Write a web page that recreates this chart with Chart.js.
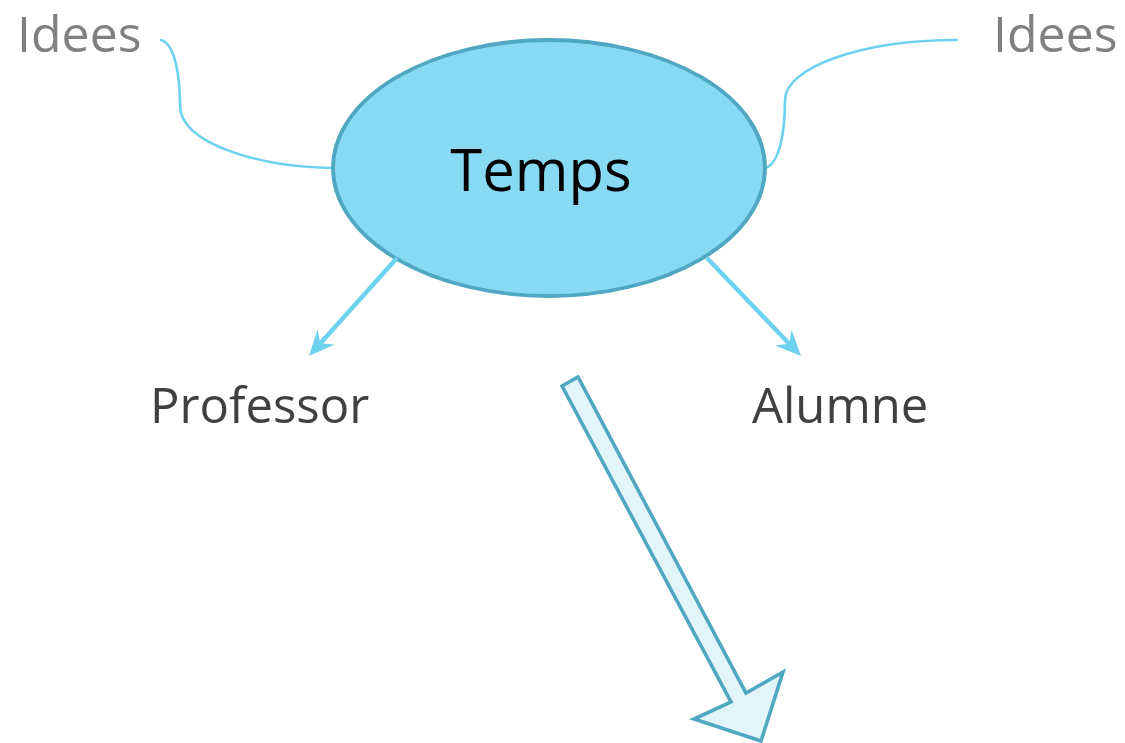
<!DOCTYPE html>
<html>
<head>
<meta charset="utf-8">
<script src="https://cdn.jsdelivr.net/npm/chart.js@4"></script>
<style>
  body { margin: 0; background: #fff; }
  #wrap { width: 1125px; height: 743px; }
</style>
</head>
<body>
<div id="wrap"><canvas id="diagram"></canvas></div>
<script>
// diagram units = reference pixels (x to the right, y downwards)
const centerNode = { label: 'Temps', x: 549, y: 168, rx: 216, ry: 128 };

const ideaLabels = ['Idees', 'Idees'];
const ideaPos = [{ x: 17, y: 52 }, { x: 993, y: 52 }];

const childLabels = ['Professor', 'Alumne'];
const childPos = [{ x: 150, y: 423 }, { x: 752, y: 423 }];

// curved connectors: start, ctrl1, ctrl2, mid, ctrl3, ctrl4, end
const curveLeft = [[161, 40], [176, 44], [180, 80], [180, 105], [180, 145], [262, 167], [333, 168]];
const curveRight = [[957, 40], [860, 40], [785, 68], [785, 100], [785, 130], [780, 164], [765, 168]];

// thin arrows: from, to
const arrowFrom = [[397, 258], [707, 258]];
const arrowTo = [[309, 356], [801, 356]];

// block arrow outline
const blockArrow = [[562, 386], [578, 377], [746, 693], [783, 672], [761, 741], [694, 719], [731, 702]];

const lineBlue = '#6dd2ef';

function createDiagramPlugin() {
    return {
        id: 'diagram',
        afterDatasetsDraw(chart) {
            const ctx = chart.ctx;
            const xs = chart.scales.x, ys = chart.scales.y;
            const px = v => xs.getPixelForValue(v);
            const py = v => ys.getPixelForValue(v);
            ctx.save();

            // connectors
            ctx.strokeStyle = lineBlue;
            ctx.lineWidth = 2.6;
            ctx.lineCap = 'round';
            [curveLeft, curveRight].forEach(c => {
                ctx.beginPath();
                ctx.moveTo(px(c[0][0]), py(c[0][1]));
                ctx.bezierCurveTo(px(c[1][0]), py(c[1][1]), px(c[2][0]), py(c[2][1]), px(c[3][0]), py(c[3][1]));
                ctx.bezierCurveTo(px(c[4][0]), py(c[4][1]), px(c[5][0]), py(c[5][1]), px(c[6][0]), py(c[6][1]));
                ctx.stroke();
            });

            // ellipse
            ctx.beginPath();
            ctx.ellipse(px(centerNode.x), py(centerNode.y),
                px(centerNode.x + centerNode.rx) - px(centerNode.x),
                Math.abs(py(centerNode.y + centerNode.ry) - py(centerNode.y)), 0, 0, Math.PI * 2);
            ctx.fillStyle = '#88daf4';
            ctx.fill();
            ctx.lineWidth = 3.8;
            ctx.strokeStyle = '#4fa7c1';
            ctx.stroke();

            // thin arrows
            ctx.strokeStyle = lineBlue;
            ctx.fillStyle = lineBlue;
            ctx.lineWidth = 4.5;
            ctx.lineCap = 'butt';
            arrowFrom.forEach((f, i) => {
                const x1 = px(f[0]), y1 = py(f[1]);
                const x2 = px(arrowTo[i][0]), y2 = py(arrowTo[i][1]);
                const ang = Math.atan2(y2 - y1, x2 - x1);
                ctx.beginPath();
                ctx.moveTo(x1, y1);
                ctx.lineTo(x2 - 8 * Math.cos(ang), y2 - 8 * Math.sin(ang));
                ctx.stroke();
                const L = 28, W = 0.42, back = 17;
                ctx.beginPath();
                ctx.moveTo(x2, y2);
                ctx.lineTo(x2 - L * Math.cos(ang - W), y2 - L * Math.sin(ang - W));
                ctx.lineTo(x2 - back * Math.cos(ang), y2 - back * Math.sin(ang));
                ctx.lineTo(x2 - L * Math.cos(ang + W), y2 - L * Math.sin(ang + W));
                ctx.closePath();
                ctx.fill();
            });

            // block arrow
            ctx.beginPath();
            blockArrow.forEach((p, i) => {
                if (i === 0) ctx.moveTo(px(p[0]), py(p[1]));
                else ctx.lineTo(px(p[0]), py(p[1]));
            });
            ctx.closePath();
            ctx.fillStyle = '#e2f5fb';
            ctx.fill();
            ctx.lineWidth = 3.6;
            ctx.lineJoin = 'miter';
            ctx.strokeStyle = '#4fa7c1';
            ctx.stroke();

            // texts
            ctx.textBaseline = 'alphabetic';
            ctx.textAlign = 'left';
            ctx.fillStyle = '#808080';
            ctx.font = '50px "Open Sans"';
            ideaLabels.forEach((t, i) => ctx.fillText(t, px(ideaPos[i].x), py(ideaPos[i].y)));

            ctx.fillStyle = '#404040';
            ctx.font = '49px "Open Sans"';
            childLabels.forEach((t, i) => ctx.fillText(t, px(childPos[i].x), py(childPos[i].y)));

            ctx.fillStyle = '#000';
            ctx.font = '58px "Open Sans"';
            ctx.textAlign = 'center';
            ctx.fillText(centerNode.label, px(centerNode.x - 8), py(centerNode.y + 23));

            ctx.restore();
        }
    };
}

new Chart(document.getElementById('diagram'), {
    type: 'scatter',
    data: { datasets: [{ data: [] }] },
    options: {
        responsive: true,
        maintainAspectRatio: false,
        animation: false,
        layout: { padding: 0 },
        plugins: { legend: { display: false }, tooltip: { enabled: false } },
        scales: {
            x: { type: 'linear', min: 0, max: 1125, display: false },
            y: { type: 'linear', min: 0, max: 743, reverse: true, display: false }
        }
    },
    plugins: [createDiagramPlugin()]
});
</script>
</body>
</html>
